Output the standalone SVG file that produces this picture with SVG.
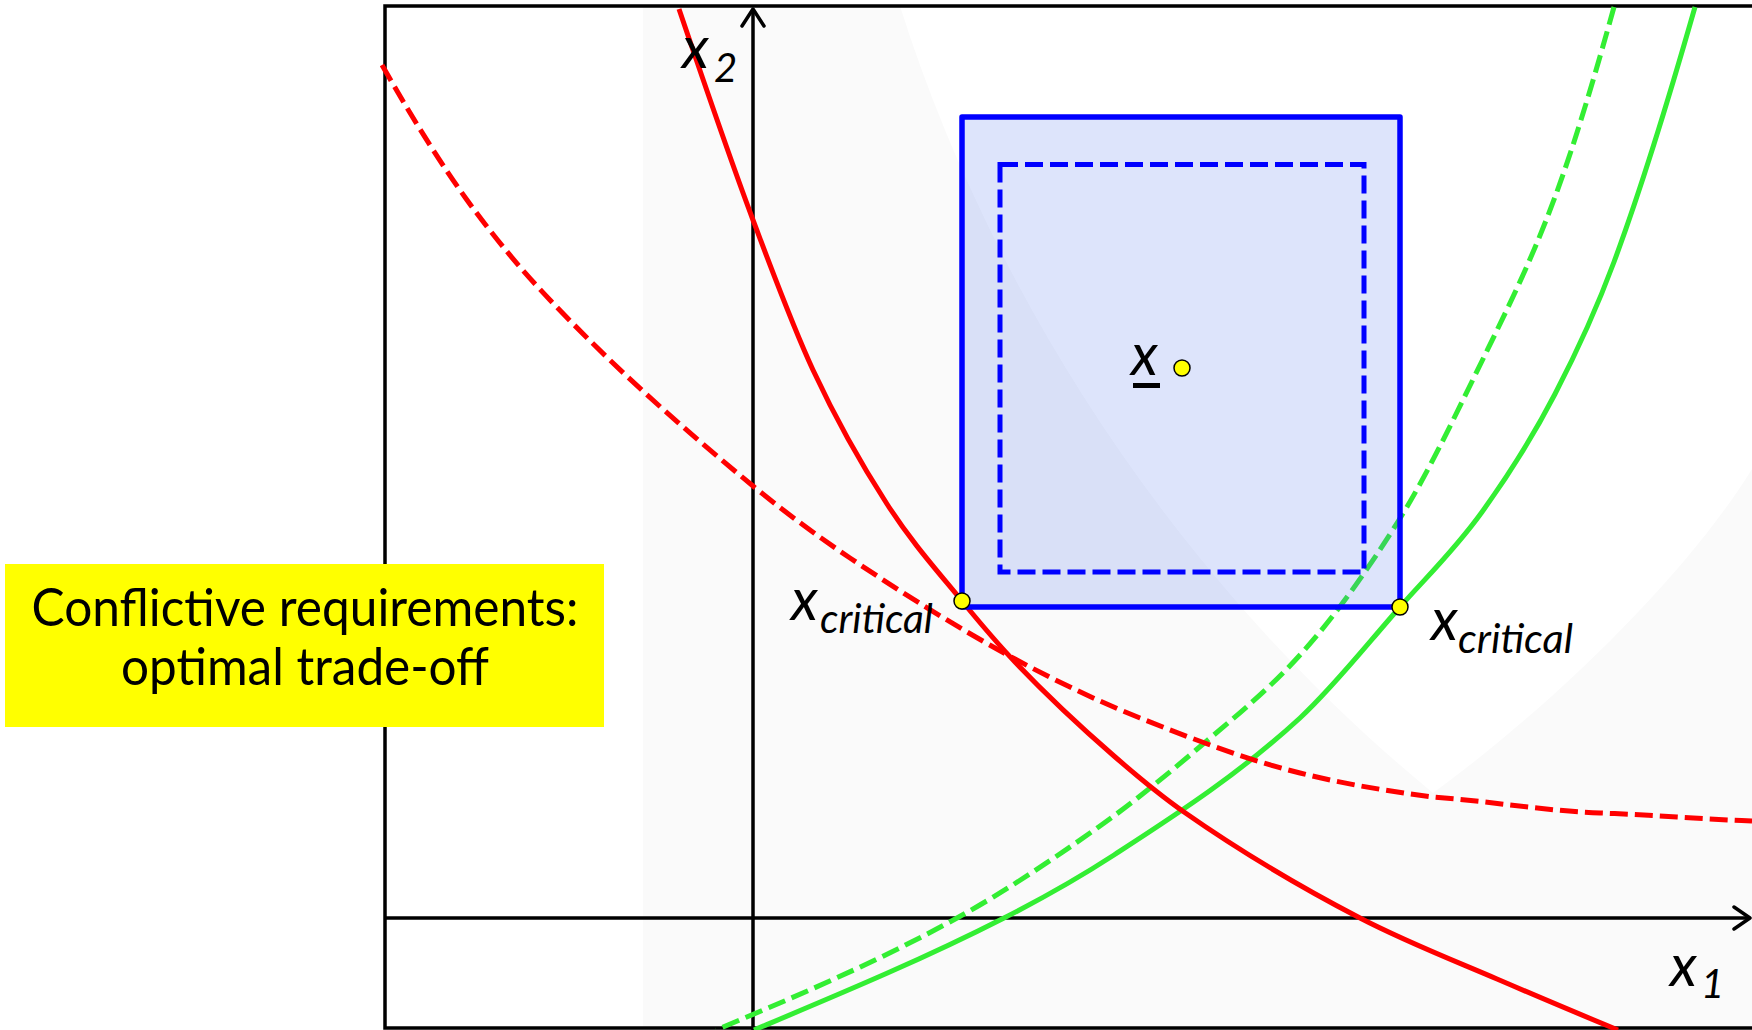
<svg xmlns="http://www.w3.org/2000/svg" width="1752" height="1030" viewBox="0 0 1752 1030">
<style>
.ax{fill:none;stroke:#000;stroke-width:3.5}
.red{fill:none;stroke:#ff0000;stroke-width:5}
.grn{fill:none;stroke:#33ee33;stroke-width:5}
.dash{stroke-dasharray:18 7}
.pt{fill:#ffff00;stroke:#000;stroke-width:1.5}
.m{font-family:Lato,"Open Sans","DejaVu Sans",sans-serif;font-style:italic;fill:#000}
.lbl{font-family:Lato,"Open Sans","DejaVu Sans",sans-serif;font-size:53px;fill:#000;text-anchor:middle}
</style>
<rect width="1752" height="1030" fill="#ffffff"/>
<g id="background">
<rect x="643" y="6" width="1120" height="1022" fill="#fafafa"/>
<path d="M900,6 C980,260 1150,560 1433,793 C1560,700 1690,570 1752,469 L1752,6 Z" fill="#ffffff"/>
</g>
<g id="frame">
<rect x="385" y="6" width="1380" height="1022" class="ax"/>
</g>
<g id="axes">
<line x1="753" y1="1030" x2="753" y2="10" class="ax"/>
<polyline points="742,26 753,9 764,26" class="ax" stroke-linecap="round" stroke-linejoin="round"/>
<line x1="385" y1="918" x2="1748" y2="918" class="ax"/>
<polyline points="1734,907 1750,918 1734,929" class="ax" stroke-linecap="round" stroke-linejoin="round"/>
</g>
<g id="curves">
<path id="green-dashed" class="grn dash" d="M1614,7 C1594.3,77.8 1574.7,143.9 1555,197 C1530.7,262.7 1506.3,311.1 1482,361 C1454.3,417.7 1426.7,475.7 1399,520 C1366,572.8 1333,618.7 1300,655 C1265.3,693.1 1230.7,720.5 1196,750 C1164,777.2 1132,803.3 1100,826 C1052.3,859.8 1004.7,891.8 957,918 C876.7,962.2 796.3,996.3 716,1030"/>
<path id="green-solid" class="grn" d="M1695,7 C1668,101.5 1641,189.1 1614,262 C1594.3,315.1 1574.7,356 1555,394 C1530.7,441 1506.3,478.2 1482,512 C1454.7,550 1427.3,576.1 1400,607 C1366.7,644.7 1333.3,687.3 1300,718 C1238,775 1176,814.7 1114,855 C1077.3,878.8 1040.7,899.3 1004,918 C920.7,960.5 837.3,995 754,1030"/>
<path id="red-dashed" class="red dash" d="M382,65 C410.3,114.6 438.7,160.9 467,200 C494.7,238.2 522.3,270.9 550,300 C617.7,371.1 685.3,430.5 753,486 C785.3,512.5 817.7,536.3 850,558 C905,594.85 960,629.3 1015,659 C1056.7,681.5 1098.3,701.3 1140,718 C1193.3,739.3 1246.7,759.7 1300,773 C1344.3,784.1 1388.7,791.2 1433,797 C1488.7,801.1 1544.3,810.8 1600,813 C1650.7,814.9 1701.3,819 1752,821"/>
<path id="red-solid" class="red" d="M679,9 C703.7,81.8 728.3,154.1 753,220 C773,273.4 793,327 813,370 C837.7,423 862.3,465.8 887,504 C912,542.75 937,570.5 962,601 C979.7,622.6 997.3,643.45 1015,662 C1048,696.65 1081,727.3 1114,756 C1137.3,776.3 1160.7,795.7 1184,812 C1242.7,853.07 1301.3,887.5 1360,918 C1405.7,941.75 1451.3,959.4 1497,979 C1537.3,996.3 1577.7,1013.5 1618,1030"/>
</g>
<g id="tolerance-box">
<rect x="962" y="117" width="438" height="490" fill="#4a6fe8" fill-opacity="0.19" stroke="#0000ff" stroke-width="5.5" stroke-linejoin="round"/>
<rect x="1000" y="164.5" width="364" height="407.5" fill="none" stroke="#0000ff" stroke-width="5" stroke-dasharray="18 7"/>
</g>
<g id="points">
<circle cx="962" cy="601" r="8" class="pt"/>
<circle cx="1400" cy="607" r="8" class="pt"/>
<circle cx="1182" cy="368" r="8" class="pt"/>
</g>
<g id="labels">
<text class="m" x="682" y="68" font-size="58">x</text>
<text class="m" x="714" y="82" font-size="40">2</text>
<text class="m" x="1670" y="986" font-size="58">x</text>
<text class="m" x="1701" y="998" font-size="40">1</text>
<text class="m" x="791" y="620" font-size="58">x</text>
<text class="m" x="820" y="633" font-size="41" textLength="113" lengthAdjust="spacingAndGlyphs">critical</text>
<text class="m" x="1431" y="640" font-size="58">x</text>
<text class="m" x="1458" y="653" font-size="41" textLength="115" lengthAdjust="spacingAndGlyphs">critical</text>
<text class="m" x="1131" y="375" font-size="58">x</text>
<rect x="1133" y="383" width="27" height="5" fill="#000"/>
</g>
<g id="note">
<rect x="5" y="564" width="599" height="163" fill="#ffff00"/>
<text class="lbl" x="305" y="626" textLength="547" lengthAdjust="spacingAndGlyphs">Conflictive requirements:</text>
<text class="lbl" x="305" y="685" textLength="368" lengthAdjust="spacingAndGlyphs">optimal trade-off</text>
</g>
</svg>
